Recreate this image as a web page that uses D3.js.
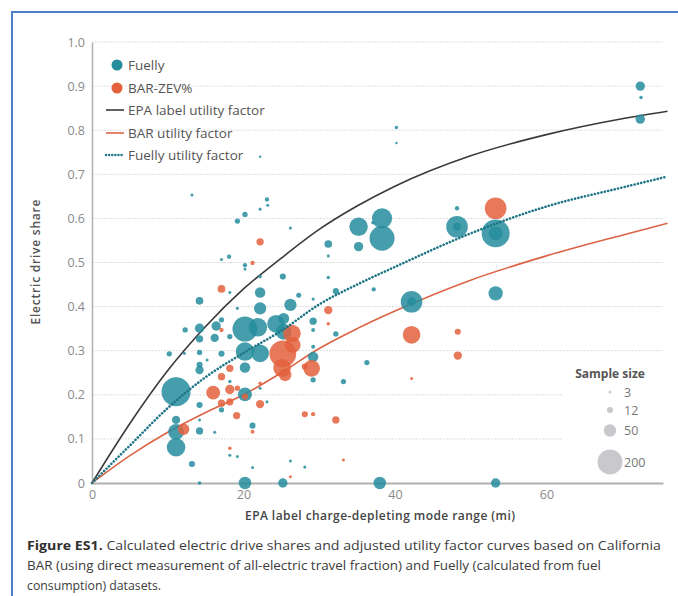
<!DOCTYPE html>
<html>
<head>
<meta charset="utf-8">
<script src="https://cdn.jsdelivr.net/npm/d3@7"></script>
<style>
    body { margin: 0; background: #fff; }
    svg { display: block; font-family: "Open Sans", sans-serif; }
</style>
</head>
<body>
<div id="chart"></div>
<script>

// ---- data ----

// tick labels
let xTicks = [0, 20, 40, 60];
let yTicks = [0, 0.1, 0.2, 0.3, 0.4, 0.5, 0.6, 0.7, 0.8, 0.9, 1.0];

// utility factor curves, sampled at these ranges (mi)
let ufRange  = [0, 5, 10, 15, 20, 25, 30, 35, 40, 50, 60, 70, 76];
let epaUF    = [0, 0.135, 0.255, 0.355, 0.44, 0.51, 0.575, 0.628, 0.673, 0.742, 0.79, 0.826, 0.843];
let barUF    = [0, 0.062, 0.115, 0.16, 0.2, 0.25, 0.305, 0.35, 0.39, 0.46, 0.515, 0.562, 0.589];
let fuellyUF = [0, 0.085, 0.17, 0.24, 0.295, 0.345, 0.405, 0.45, 0.49, 0.566, 0.627, 0.67, 0.695];

// Fuelly vehicles: [range, electric share, sample size]
let fuellyPoints = [
    [13.2, 0.653, 3], [23.1, 0.643, 6], [23.2, 0.630, 3], [22.2, 0.621, 3], [20.2, 0.609, 9],
    [19.2, 0.594, 9], [26.2, 0.578, 3], [31.2, 0.542, 19], [31.2, 0.515, 3], [18.1, 0.513, 6],
    [17.1, 0.507, 3], [20.2, 0.494, 6], [20.2, 0.485, 3], [22.2, 0.468, 4], [25.2, 0.468, 12],
    [31.2, 0.466, 4], [18.2, 0.432, 3], [22.2, 0.432, 35], [14.2, 0.413, 19], [19.2, 0.396, 3],
    [22.2, 0.396, 48], [26.2, 0.404, 48], [27.3, 0.426, 8], [29.2, 0.417, 3], [29.2, 0.367, 17],
    [29.2, 0.347, 5], [32.2, 0.338, 9], [32.2, 0.435, 12], [12.3, 0.347, 9], [14.2, 0.351, 28],
    [16.4, 0.356, 28], [17.1, 0.370, 9], [20.2, 0.349, 200], [21.9, 0.353, 110], [24.3, 0.361, 100],
    [25.3, 0.373, 40], [25.3, 0.343, 80], [18.2, 0.332, 9], [14.2, 0.327, 17], [16.2, 0.329, 22],
    [10.2, 0.293, 9], [12.2, 0.294, 3], [14.2, 0.296, 9], [17.1, 0.293, 12], [20.2, 0.298, 110],
    [22.2, 0.294, 100], [29.2, 0.309, 5], [29.2, 0.286, 35], [14.2, 0.268, 12], [15.2, 0.279, 3],
    [14.2, 0.256, 22], [20.2, 0.262, 35], [18.2, 0.230, 4], [20.2, 0.201, 62], [17.1, 0.166, 9],
    [14.2, 0.177, 12], [11.1, 0.207, 270], [11.1, 0.143, 22], [11.1, 0.116, 80], [11.1, 0.081, 110],
    [14.2, 0.118, 17], [14.2, 0.143, 3], [16.2, 0.115, 3], [21.2, 0.130, 12], [13.2, 0.043, 12],
    [18.2, 0.063, 3], [19.2, 0.060, 3], [21.2, 0.035, 3], [26.2, 0.050, 3], [28.1, 0.036, 3],
    [20.2, 0, 50], [25.2, 0, 28], [14.2, 0, 4], [29.2, 0.234, 9], [33.2, 0.230, 9],
    [22.2, 0.215, 3], [23.1, 0.184, 3], [35.2, 0.581, 110], [38.3, 0.600, 130], [38.3, 0.555, 200],
    [35.2, 0.536, 28], [37.1, 0.590, 4], [48.2, 0.623, 6], [48.2, 0.581, 150], [48.2, 0.581, 20],
    [53.3, 0.566, 250], [53.3, 0.566, 60], [53.3, 0.430, 65], [42.2, 0.411, 150], [42.2, 0.411, 25],
    [37.2, 0.439, 6], [36.3, 0.273, 9], [38.0, 0, 50], [53.3, 0, 28], [40.2, 0.806, 4],
    [72.4, 0.900, 28], [72.5, 0.874, 4], [72.4, 0.825, 28], [22.2, 0.740, 2], [40.2, 0.771, 2]
];

// BAR-ZEV% vehicles: [range, electric share, sample size]
let barPoints = [
    [22.2, 0.547, 17], [21.2, 0.499, 6], [17.1, 0.440, 19], [31.2, 0.392, 22], [31.2, 0.361, 4],
    [17.1, 0.347, 6], [26.4, 0.339, 100], [25.2, 0.293, 230], [25.1, 0.261, 100], [26.5, 0.313, 80],
    [25.5, 0.245, 50], [29.0, 0.260, 90], [28.1, 0.264, 12], [18.2, 0.260, 17], [17.1, 0.241, 17],
    [16.0, 0.205, 62], [18.2, 0.212, 28], [19.2, 0.215, 9], [20.2, 0.196, 12], [17.1, 0.181, 17],
    [18.2, 0.184, 17], [19.1, 0.153, 17], [22.2, 0.226, 4], [22.2, 0.179, 22], [12.1, 0.122, 42],
    [21.2, 0.116, 5], [18.2, 0.079, 4], [26.2, 0.014, 3], [28.1, 0.156, 12], [29.2, 0.156, 6],
    [32.2, 0.143, 17], [33.2, 0.052, 3], [53.3, 0.623, 150], [42.2, 0.336, 100], [48.3, 0.343, 12],
    [48.3, 0.289, 22], [42.2, 0.237, 3]
];

// sample size legend
let sizeKeys = [3, 12, 50, 200];

let captionLines = [
    ["Figure ES1.", " Calculated electric drive shares and adjusted utility factor curves based on California"],
    ["", "BAR (using direct measurement of all-electric travel fraction) and Fuelly (calculated from fuel"],
    ["", "consumption) datasets."]
];

// ---- drawing ----

const width = 678, height = 596;
const teal = "#268d9d", red = "#e3603d";

let svg = d3.select("#chart").append("svg")
    .attr("width", width)
    .attr("height", height);

// blue frame around the figure
svg.append("rect")
    .attr("x", 12).attr("y", 12)
    .attr("width", 720).attr("height", 720)
    .attr("fill", "none")
    .attr("stroke", "#4f7fc6")
    .attr("stroke-width", 2);

let x = d3.scaleLinear().domain([0, 75.4]).range([92, 663]);
let y = d3.scaleLinear().domain([0, 1]).range([483, 42]);
let r = d3.scaleSqrt().domain([0, 200]).range([0, 12.5]);

// gridlines
svg.append("g")
    .selectAll("line")
    .data(yTicks.filter(d => d > 0))
    .enter()
    .append("line")
    .attr("x1", x(0)).attr("x2", x(75.4))
    .attr("y1", d => y(d)).attr("y2", d => y(d))
    .attr("stroke", "#dedede")
    .attr("stroke-dasharray", "2,1");

// axes
let yAxis = d3.axisLeft(y).tickValues(yTicks).tickSize(0).tickPadding(7)
    .tickFormat(d => d === 0 ? "0" : d3.format(".1f")(d));
let xAxis = d3.axisBottom(x).tickValues(xTicks).tickSize(0).tickPadding(7);

svg.append("g")
    .attr("transform", `translate(${x(0)},0)`)
    .call(yAxis)
    .call(g => g.select(".domain").attr("stroke", "#b0b0b0").attr("stroke-width", 1.5))
    .call(g => g.selectAll("text").attr("fill", "#8a8a8a").attr("font-size", "12.5px")
        .attr("font-family", "Open Sans"));

svg.append("g")
    .attr("transform", `translate(0,${y(0)})`)
    .call(xAxis)
    .call(g => g.select(".domain").attr("stroke", "#b0b0b0").attr("stroke-width", 2))
    .call(g => g.selectAll("text").attr("fill", "#8a8a8a").attr("font-size", "12.5px")
        .attr("font-family", "Open Sans"));

// axis titles
svg.append("text")
    .attr("x", 380).attr("y", 520)
    .attr("text-anchor", "middle")
    .attr("font-size", "12px")
    .attr("font-weight", 600)
    .attr("fill", "#444")
    .attr("textLength", 270)
    .text("EPA label charge-depleting mode range (mi)");

svg.append("text")
    .attr("transform", "translate(40,262) rotate(-90)")
    .attr("text-anchor", "middle")
    .attr("font-size", "12px")
    .attr("font-weight", 600)
    .attr("fill", "#555")
    .attr("textLength", 125)
    .text("Electric drive share");

// utility factor curves
let curve = (vals) => d3.line()
    .x((d, i) => x(ufRange[i]))
    .y(d => y(d))
    .curve(d3.curveMonotoneX)(vals);

svg.append("path")
    .attr("d", curve(epaUF))
    .attr("fill", "none")
    .attr("stroke", "#3a3a3a")
    .attr("stroke-width", 1.6);

svg.append("path")
    .attr("d", curve(barUF))
    .attr("fill", "none")
    .attr("stroke", "#dc6446")
    .attr("stroke-width", 1.6);

// bubbles, bigger first so the small ones stay visible
let drawBubbles = (points, color) => {
    svg.append("g")
        .selectAll("circle")
        .data(points.slice().sort((a, b) => b[2] - a[2]))
        .enter()
        .append("circle")
        .attr("cx", d => x(d[0]))
        .attr("cy", d => y(d[1]))
        .attr("r", d => r(d[2]))
        .attr("fill", color)
        .attr("fill-opacity", 0.85);
};
drawBubbles(fuellyPoints, teal);
drawBubbles(barPoints, red);

svg.append("path")
    .attr("d", curve(fuellyUF))
    .attr("fill", "none")
    .attr("stroke", "#1e7585")
    .attr("stroke-width", 2.6)
    .attr("stroke-linecap", "round")
    .attr("stroke-dasharray", "0.1,3.3");

// series legend (top left)
let legend = svg.append("g").attr("font-size", "13.5px").attr("fill", "#555");

legend.append("circle").attr("cx", 117).attr("cy", 65).attr("r", 5.5).attr("fill", teal);
legend.append("circle").attr("cx", 117).attr("cy", 88).attr("r", 5.5).attr("fill", red);
legend.append("text").attr("x", 128).attr("y", 69.5).text("Fuelly");
legend.append("text").attr("x", 128).attr("y", 92.5).text("BAR-ZEV%");

let lineKeys = [
    {label: "EPA label utility factor", color: "#3a3a3a", dash: null, w: 1.6, cy: 110},
    {label: "BAR utility factor", color: "#dc6446", dash: null, w: 1.6, cy: 133},
    {label: "Fuelly utility factor", color: "#1e7585", dash: "0.1,3", w: 2.4, cy: 155}
];
lineKeys.forEach(k => {
    legend.append("line")
        .attr("x1", 106).attr("x2", 124)
        .attr("y1", k.cy).attr("y2", k.cy)
        .attr("stroke", k.color)
        .attr("stroke-width", k.w)
        .attr("stroke-linecap", k.dash ? "round" : "butt")
        .attr("stroke-dasharray", k.dash);
    legend.append("text").attr("x", 128).attr("y", k.cy + 4.5).text(k.label);
});

// sample size legend (bottom right)
let sizeLegend = svg.append("g");
sizeLegend.append("rect")
    .attr("x", 563).attr("y", 366).attr("width", 100).attr("height", 112)
    .attr("fill", "#fff");
sizeLegend.append("text")
    .attr("x", 610).attr("y", 378)
    .attr("text-anchor", "middle")
    .attr("font-size", "12px").attr("font-weight", 700).attr("fill", "#555")
    .text("Sample size");
let sizeY = [392, 410, 430.5, 462];
sizeKeys.forEach((n, i) => {
    sizeLegend.append("circle")
        .attr("cx", 610).attr("cy", sizeY[i]).attr("r", r(n))
        .attr("fill", "#c9c9cd");
    sizeLegend.append("text")
        .attr("x", 624).attr("y", sizeY[i] + 4.5)
        .attr("font-size", "12.5px").attr("fill", "#777")
        .text(n);
});

// caption
let lineWidths = [634, 574, 134];
captionLines.forEach((ln, i) => {
    let t = svg.append("text")
        .attr("x", 27).attr("y", 550 + i * 20)
        .attr("font-size", "12.5px")
        .attr("fill", "#3c3c3c")
        .attr("textLength", lineWidths[i])
        .attr("lengthAdjust", "spacingAndGlyphs");
    if (ln[0]) t.append("tspan").attr("font-weight", 700).attr("fill", "#2f2f2f").text(ln[0]);
    t.append("tspan").text(ln[1]);
});

</script>
</body>
</html>
